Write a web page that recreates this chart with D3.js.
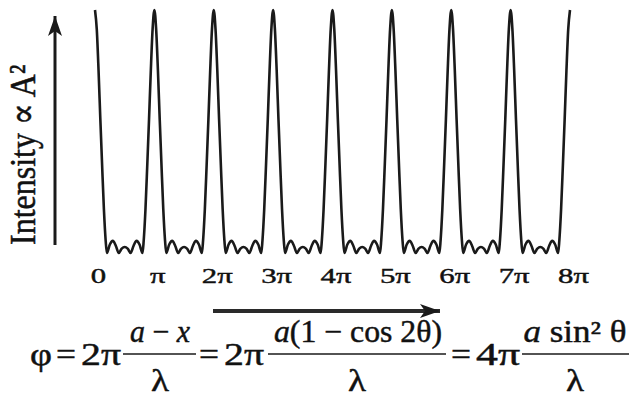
<!DOCTYPE html>
<html>
<head>
<meta charset="utf-8">
<script src="https://cdn.jsdelivr.net/npm/d3@7"></script>
<style>
  body { margin: 0; background: #fff; }
  svg text {
    font-family: "Liberation Serif", "Times New Roman", "DejaVu Serif", serif;
    fill: #111;
    stroke: #111;
    stroke-width: 0.45px;
  }
</style>
</head>
<body>
<svg id="chart" width="632" height="401"></svg>
<script>
// principal maxima, in units of pi
var peakOrders = [0, 1, 2, 3, 4, 5, 6, 7, 8];
var tickLabels = ["0", "π", "2π", "3π", "4π", "5π", "6π", "7π", "8π"];

// one period of the pattern
// phase offset from a principal maximum (units of pi) and relative intensity
var periodPhase = [0, 0.03, 0.06, 0.09, 0.12, 0.15, 0.18, 0.2, 0.25, 0.3, 0.35, 0.4,
  0.45, 0.5, 0.55, 0.6, 0.65, 0.7, 0.75, 0.8, 0.82, 0.85, 0.88, 0.91, 0.94, 0.97];
var periodIntensity = [1, 0.92, 0.75, 0.55, 0.36, 0.18, 0.05, 0, 0.035, 0.05, 0.03, 0,
  0.018, 0.025, 0.018, 0, 0.03, 0.05, 0.035, 0, 0.05, 0.18, 0.36, 0.55, 0.75, 0.92];

var svg = d3.select("#chart");

var x = d3.scaleLinear().domain([0, 8]).range([95, 570]);
var y = d3.scaleLinear().domain([0, 1]).range([253, 10]);

// repeat the period between neighbouring maxima
var points = [];
peakOrders.slice(0, -1).forEach(function (k) {
  periodPhase.forEach(function (p, i) {
    points.push({ phase: k + p, value: periodIntensity[i] });
  });
});
points.push({ phase: peakOrders[peakOrders.length - 1], value: 1 });

var line = d3.line()
  .x(function (d) { return x(d.phase); })
  .y(function (d) { return y(d.value); })
  .curve(d3.curveMonotoneX);

svg.append("path")
  .datum(points)
  .attr("d", line)
  .attr("fill", "none")
  .attr("stroke", "#1a1a1a")
  .attr("stroke-width", 2.6)
  .attr("stroke-linejoin", "round");

// arrow heads
var defs = svg.append("defs");
defs.append("marker")
  .attr("id", "head")
  .attr("markerUnits", "userSpaceOnUse")
  .attr("viewBox", "-10 -8 22 16")
  .attr("refX", 10).attr("refY", 0)
  .attr("markerWidth", 22).attr("markerHeight", 16)
  .attr("orient", "auto")
  .append("path")
  .attr("d", "M10,0 L-10,-7 L-5,0 L-10,7 Z")
  .attr("fill", "#1a1a1a");

// intensity arrow
svg.append("line")
  .attr("x1", 55).attr("y1", 245)
  .attr("x2", 55).attr("y2", 16)
  .attr("stroke", "#1a1a1a")
  .attr("stroke-width", 3)
  .attr("marker-end", "url(#head)");

svg.append("text")
  .attr("transform", "translate(35,245) rotate(-90) scale(1,1.15)")
  .attr("font-size", 32)
  .text("Intensity ∝ A²");

// phase tick labels
svg.append("g")
  .selectAll("text")
  .data(peakOrders)
  .join("text")
  .attr("transform", function (d) { return "translate(" + (x(d) + 3.5) + ",283) scale(1.4,1)"; })
  .attr("text-anchor", "middle")
  .attr("font-size", 22)
  .text(function (d, i) { return tickLabels[i]; });

// phase arrow
svg.append("line")
  .attr("x1", 213).attr("y1", 311)
  .attr("x2", 440).attr("y2", 311)
  .attr("stroke", "#2a2a2a")
  .attr("stroke-width", 4)
  .attr("marker-end", "url(#head)");

// formula
var f = svg.append("g").attr("font-size", 31);

function piece(cx, base, w, parts) {
  var t = f.append("text")
    .attr("x", cx).attr("y", base)
    .attr("text-anchor", "middle")
    .attr("textLength", w)
    .attr("lengthAdjust", "spacingAndGlyphs");
  parts.forEach(function (p) {
    t.append("tspan")
      .attr("font-style", p[1] ? "italic" : null)
      .text(p[0]);
  });
}

function bar(x1, x2) {
  f.append("line")
    .attr("x1", x1).attr("x2", x2)
    .attr("y1", 354).attr("y2", 354)
    .attr("stroke", "#1a1a1a")
    .attr("stroke-width", 1.6);
}

piece(41, 365, 22, [["φ"]]);
piece(66, 365, 20, [["="]]);
piece(101, 365, 40, [["2π"]]);
bar(123, 196);
piece(160, 342, 60, [["a", 1], [" − "], ["x", 1]]);
piece(160, 391, 18, [["λ"]]);

piece(209, 365, 20, [["="]]);
piece(244, 365, 40, [["2π"]]);
bar(268, 446);
piece(358, 342, 168, [["a", 1], ["(1 − cos 2θ)"]]);
piece(357, 391, 18, [["λ"]]);

piece(461, 365, 20, [["="]]);
piece(498, 365, 44, [["4π"]]);
bar(522, 629);
piece(575, 342, 103, [["a", 1], [" sin² θ"]]);
piece(575, 391, 18, [["λ"]]);
</script>
</body>
</html>
